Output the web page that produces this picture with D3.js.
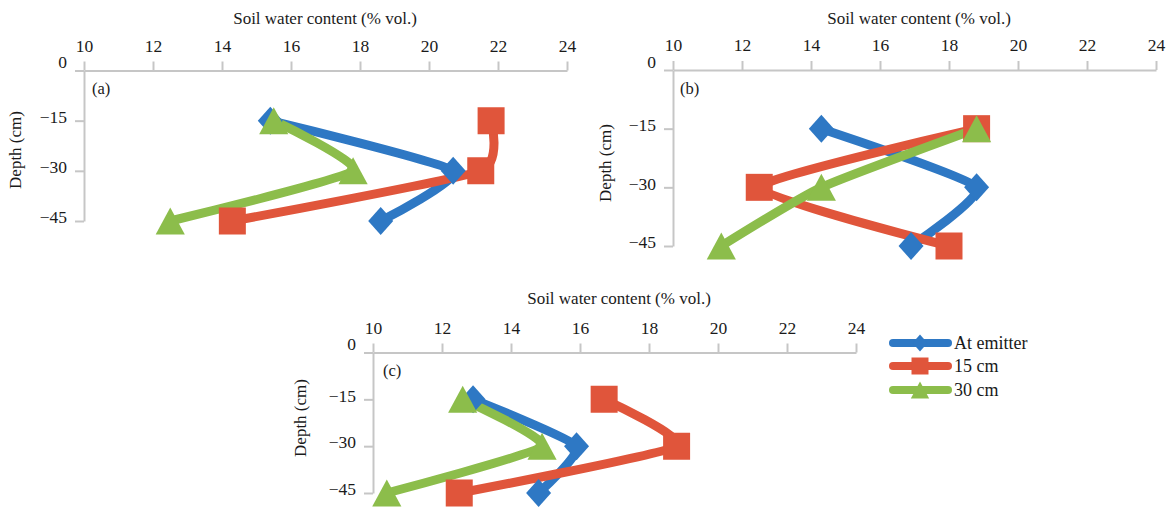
<!DOCTYPE html>
<html>
<head>
<meta charset="utf-8">
<script src="https://cdn.jsdelivr.net/npm/d3@7"></script>
<style>
  html, body { margin: 0; padding: 0; background: #fff; }
  svg, svg text { font-family: "Liberation Serif", "Times New Roman", "DejaVu Serif", serif !important; }
  svg text { fill: #1a1a1a; }
</style>
</head>
<body>
<svg id="chart" width="1172" height="512" font-family="Liberation Serif, serif"></svg>
<script>
// ---- data ----
const depths = [-15, -30, -45];
const seriesNames = ["At emitter", "15 cm", "30 cm"];
const xTicks = [10, 12, 14, 16, 18, 20, 22, 24];
const yTicks = [0, -15, -30, -45];
const panelLabels = ["(a)", "(b)", "(c)"];
const xTitle = "Soil water content (% vol.)";
const yTitle = "Depth (cm)";

// panel (a)
const aEmitter = [15.4, 20.7, 18.6];
const a15 = [21.8, 21.5, 14.3];
const a30 = [15.5, 17.8, 12.5];
// panel (b)
const bEmitter = [14.3, 18.8, 16.9];
const b15 = [18.8, 12.5, 18.0];
const b30 = [18.8, 14.3, 11.4];
// panel (c)
const cEmitter = [12.9, 15.9, 14.8];
const c15 = [16.7, 18.8, 12.5];
const c30 = [12.6, 14.9, 10.4];

const colors = ["#2e78c4", "#e0553b", "#8cbd4b"];
const markerKinds = ["diamond", "square", "triangle"];

// ---- layout (pixel frames per panel) ----
const panels = [
  { label: panelLabels[0], data: [aEmitter, a15, a30], x0: 84, x1: 567, y0: 70.5, y45: 221, clipB: 239,
    titleX: 325, titleY: 24, yLabX: 21, yLabY: 150, lblX: 92, lblY: 94 },
  { label: panelLabels[1], data: [bEmitter, b15, b30], x0: 673, x1: 1156, y0: 70, y45: 246, clipB: 266,
    titleX: 919, titleY: 24, yLabX: 611, yLabY: 163, lblX: 680, lblY: 94 },
  { label: panelLabels[2], data: [cEmitter, c15, c30], x0: 373, x1: 856, y0: 352.5, y45: 493, clipB: 512,
    titleX: 619, titleY: 304, yLabX: 306, yLabY: 418, lblX: 383, lblY: 376 }
];

const FONT = '"Liberation Serif", "Times New Roman", serif';
const svg = d3.select("#chart");

function markerPath(kind, s) {
  const p = d3.path();
  if (kind === "diamond") {
    const w = s * 0.5, h = s * 0.56;
    p.moveTo(0, -h); p.lineTo(w, 0); p.lineTo(0, h); p.lineTo(-w, 0); p.closePath();
  } else if (kind === "square") {
    const h = s * 0.5;
    p.rect(-h, -h, 2 * h, 2 * h);
  } else {
    const w = s * 0.54, h = s * 0.5;
    p.moveTo(0, -h); p.lineTo(w, h); p.lineTo(-w, h); p.closePath();
  }
  return p.toString();
}

panels.forEach((P, pi) => {
  const x = d3.scaleLinear().domain([10, 24]).range([P.x0, P.x1]);
  const y = d3.scaleLinear().domain([0, -45]).range([P.y0, P.y45]);
  const g = svg.append("g");

  const xa = g.append("g").attr("transform", `translate(0,${P.y0})`)
    .call(d3.axisTop(x).tickValues(xTicks).tickSize(9).tickSizeOuter(0).tickPadding(10).tickFormat(d3.format("d")));
  const ya = g.append("g").attr("transform", `translate(${P.x0},0)`)
    .call(d3.axisLeft(y).tickValues(yTicks).tickSize(9).tickSizeOuter(0).tickPadding(8).tickFormat(d3.format("d")));
  [xa, ya].forEach(a => {
    a.attr("font-family", FONT);
    a.select(".domain").attr("stroke", "#c6c6c6").attr("stroke-width", 2);
    a.selectAll(".tick line").attr("stroke", "#c6c6c6").attr("stroke-width", 2);
    a.selectAll(".tick text").attr("font-size", 17.5).attr("fill", "#1a1a1a").attr("font-family", FONT);
  });
  ya.selectAll(".tick text").attr("dy", d => d === 0 ? "-0.15em" : "0.1em");

  g.append("text").attr("x", P.titleX).attr("y", P.titleY).attr("text-anchor", "middle")
    .attr("font-size", 17).attr("font-family", FONT).text(xTitle);
  g.append("text").attr("transform", `translate(${P.yLabX},${P.yLabY}) rotate(-90)`)
    .attr("text-anchor", "middle").attr("font-size", 17).attr("font-family", FONT).text(yTitle);
  g.append("text").attr("x", P.lblX).attr("y", P.lblY).attr("font-size", 16.5).attr("font-family", FONT).text(P.label);

  const cid = "clip" + pi;
  svg.append("clipPath").attr("id", cid).append("rect")
    .attr("x", P.x0 - 40).attr("y", P.y0 + 2).attr("width", P.x1 - P.x0 + 80).attr("height", P.clipB - P.y0 - 2);
  const plot = g.append("g").attr("clip-path", `url(#${cid})`);

  const line = d3.line().x(d => x(d[0])).y(d => y(d[1])).curve(d3.curveCardinal.tension(0.5));

  P.data.forEach((vals, si) => {
    const pts = vals.map((v, i) => [v, depths[i]]);
    plot.append("path").attr("d", line(pts)).attr("fill", "none")
      .attr("stroke", colors[si]).attr("stroke-width", 9).attr("stroke-linejoin", "round");
  });
  P.data.forEach((vals, si) => {
    const size = si === 0 ? 25 : 27;
    plot.selectAll(null).data(vals.map((v, i) => [v, depths[i]])).enter().append("path")
      .attr("transform", d => `translate(${x(d[0])},${y(d[1])})`)
      .attr("d", markerPath(markerKinds[si], size)).attr("fill", colors[si]);
  });
});

const leg = svg.append("g");
const legY = [343, 366, 390];
seriesNames.forEach((name, i) => {
  leg.append("line").attr("x1", 893).attr("x2", 948).attr("y1", legY[i]).attr("y2", legY[i])
    .attr("stroke", colors[i]).attr("stroke-width", 8).attr("stroke-linecap", "round");
  leg.append("path").attr("transform", `translate(920,${legY[i]})`)
    .attr("d", markerPath(markerKinds[i], i === 0 ? 15 : 17)).attr("fill", colors[i]);
  leg.append("text").attr("x", 954).attr("y", legY[i] + 6).attr("font-size", 18).attr("font-family", FONT).text(name);
});
</script>
</body>
</html>
